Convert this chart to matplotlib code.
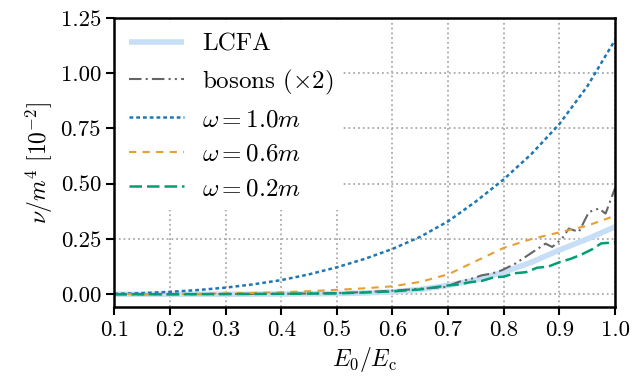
import numpy as np
import matplotlib
matplotlib.use("Agg")
from matplotlib import pyplot as plt

plt.rcParams['font.family'] = 'serif'
plt.rcParams['font.serif'] = ['cmr10', 'DejaVu Serif']
plt.rcParams['mathtext.fontset'] = 'cm'
plt.rcParams['axes.formatter.use_mathtext'] = True
plt.rcParams['axes.unicode_minus'] = False

# smooth curves
x_smooth = [0.1, 0.15, 0.2, 0.25, 0.3, 0.35, 0.4, 0.45, 0.5, 0.55, 0.6,
            0.65, 0.7, 0.75, 0.8, 0.85, 0.9, 0.95, 1.0]
lcfa = [0.0, 0.0, 0.0, 0.0, 0.0, 0.0005, 0.001, 0.002, 0.003, 0.006, 0.011,
        0.022, 0.04, 0.065, 0.10, 0.145, 0.20, 0.25, 0.305]
w10 = [0.002, 0.005, 0.011, 0.019, 0.03, 0.045, 0.064, 0.09, 0.122, 0.16, 0.205,
       0.26, 0.33, 0.42, 0.52, 0.635, 0.77, 0.94, 1.15]
w06 = [0.0, 0.0005, 0.001, 0.002, 0.004, 0.006, 0.009, 0.014, 0.02, 0.027, 0.036,
       0.056, 0.09, 0.15, 0.21, 0.25, 0.28, 0.31, 0.355]

# wiggly curves
x_w02 = [0.1, 0.2, 0.3, 0.4, 0.45, 0.5, 0.55, 0.6, 0.65, 0.7, 0.72, 0.74,
         0.76, 0.78, 0.80, 0.82, 0.84, 0.86, 0.88, 0.90, 0.92, 0.94, 0.96,
         0.975, 1.0]
w02 = [0.0, 0.0, 0.001, 0.002, 0.003, 0.004, 0.008, 0.013, 0.022, 0.04, 0.045,
       0.055, 0.06, 0.075, 0.08, 0.095, 0.10, 0.12, 0.125, 0.145, 0.16, 0.18,
       0.205, 0.23, 0.235]
x_bos = [0.1, 0.2, 0.3, 0.4, 0.5, 0.55, 0.6, 0.65, 0.696, 0.719, 0.743, 0.761,
         0.779, 0.797, 0.821, 0.839, 0.857, 0.875, 0.887, 0.905, 0.917, 0.935,
         0.953, 0.971, 0.983, 1.0]
bosons = [0.0, 0.0, 0.001, 0.002, 0.005, 0.01, 0.016, 0.025, 0.033, 0.056, 0.071,
          0.086, 0.094, 0.109, 0.139, 0.169, 0.199, 0.229, 0.214, 0.252, 0.297,
          0.282, 0.372, 0.388, 0.365, 0.48]

fig = plt.figure(figsize=(6.42, 3.81), dpi=100)
ax = fig.add_axes([0.178, 0.194, 0.780, 0.759])

ax.plot(x_smooth, lcfa, color='#c6dff7', lw=4, solid_capstyle='butt', label='LCFA')
ax.plot(x_bos, bosons, color='#666666', lw=1.5,
        dashes=(6, 2, 1, 2, 6, 2, 1, 2, 1, 2), label=r'bosons ($\times 2$)')
ax.plot(x_smooth, w10, color='#1f77b4', lw=1.8, dashes=(1.5, 1.2), label=r'$\omega = 1.0m$')
ax.plot(x_smooth, w06, color='#e6a032', lw=1.5, dashes=(3.5, 3), label=r'$\omega = 0.6m$')
ax.plot(x_w02, w02, color='#009e73', lw=1.8, dashes=(5, 2), label=r'$\omega = 0.2m$')

ax.set_xlim(0.1, 1.0)
ax.set_ylim(-0.058, 1.25)
ax.set_xticks(np.arange(0.1, 1.01, 0.1))
ax.set_yticks([0.0, 0.25, 0.5, 0.75, 1.0, 1.25])
ax.set_xticklabels(['0.1', '0.2', '0.3', '0.4', '0.5', '0.6', '0.7', '0.8', '0.9', '1.0'])
ax.set_yticklabels(['0.00', '0.25', '0.50', '0.75', '1.00', '1.25'])
ax.grid(True, color='#aaaaaa', ls=':', lw=1.3)
ax.tick_params(labelsize=16.5, width=1.5, length=6)
for s in ax.spines.values():
    s.set_linewidth(1.8)

ax.set_xlabel(r'$E_0/E_{\rm c}$', fontsize=17)
ax.set_ylabel(r'$\nu/m^4\ [10^{-2}]$', fontsize=17)

leg = ax.legend(loc='upper left', fontsize=18, frameon=True, framealpha=1,
                facecolor='white', edgecolor='none', fancybox=False,
                labelspacing=0.48, handlelength=2.2, handletextpad=0.7,
                borderaxespad=0.2)

fig.savefig('out.png', dpi=100)
